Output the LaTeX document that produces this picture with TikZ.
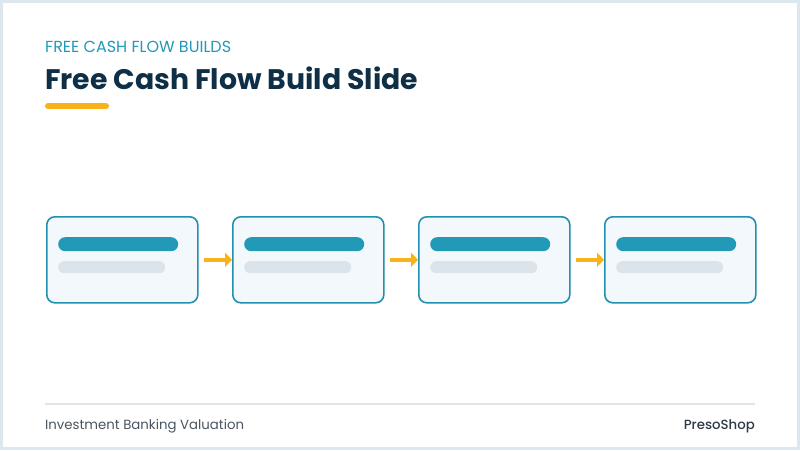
\documentclass[tikz,border=0pt]{standalone}
\usepackage{fontspec}
\setmainfont{Poppins}
\newfontfamily\popmed{Poppins}[UprightFont=* Medium,BoldFont=* SemiBold]
\usetikzlibrary{arrows.meta}
\definecolor{frame}{HTML}{DCE8EE}
\definecolor{teal}{HTML}{2399B8}
\definecolor{navy}{HTML}{0F2F47}
\definecolor{boxline}{HTML}{2290B0}
\definecolor{boxfill}{HTML}{F2F8FB}
\definecolor{lightbar}{HTML}{DBE4EA}
\definecolor{amber}{HTML}{F9B21A}
\definecolor{foot}{HTML}{4A5560}
\definecolor{brand}{HTML}{2E3A45}
\definecolor{footline}{HTML}{DDE5EA}
\tikzset{
  card/.style={draw=boxline, line width=1.6pt, fill=boxfill, rounded corners=8pt,
    minimum width=151pt, minimum height=86pt, inner sep=0pt, anchor=north west},
  darkbar/.style={fill=teal, rounded corners=7pt, minimum width=120pt, minimum height=14pt, inner sep=0pt, anchor=north west},
  palebar/.style={fill=lightbar, rounded corners=6pt, minimum width=107pt, minimum height=12pt, inner sep=0pt, anchor=north west},
  flow/.style={draw=amber, line width=3.6pt, -{Triangle[length=7pt,width=14pt]}, shorten <=5pt},
  txt/.style={inner sep=0pt, anchor=base west}
}
\begin{document}
\begin{tikzpicture}[x=1pt,y=-1pt]
\useasboundingbox (0,0) rectangle (800,450);
\fill[frame] (0,0) rectangle (800,450);
\fill[white] (3,3) rectangle (797,447);
\node[txt, text=teal, font=\fontsize{16}{19}\selectfont] (sub) at (45,52) {FREE CASH FLOW BUILDS};
\node[txt, text=navy, font=\fontsize{28.3}{32}\selectfont\bfseries] (title) at (45,89) {Free Cash Flow Build Slide};
\draw[amber, line width=6pt, line cap=round] (48,106) -- (106,106);
\foreach \i in {1,...,4}{
  \pgfmathsetmacro{\xx}{46+186*(\i-1)}
  \node[card] (b\i) at (\xx,216) {};
  \node[darkbar] (d\i) at (\xx+12,237) {};
  \node[palebar] (p\i) at (\xx+12,261) {};
}
\draw[flow] (b1.east) -- (b2.west);
\draw[flow] (b2.east) -- (b3.west);
\draw[flow] (b3.east) -- (b4.west);
\draw[footline, line width=1.5pt] (45,404) -- (755,404);
\node[txt, text=foot, font=\fontsize{13.3}{16}\selectfont] (f1) at (45,429) {Investment Banking Valuation};
\node[inner sep=0pt, anchor=base east, text=brand, font=\fontsize{13.3}{16}\popmed] (f2) at (755,429) {PresoShop};
\end{tikzpicture}
\end{document}
